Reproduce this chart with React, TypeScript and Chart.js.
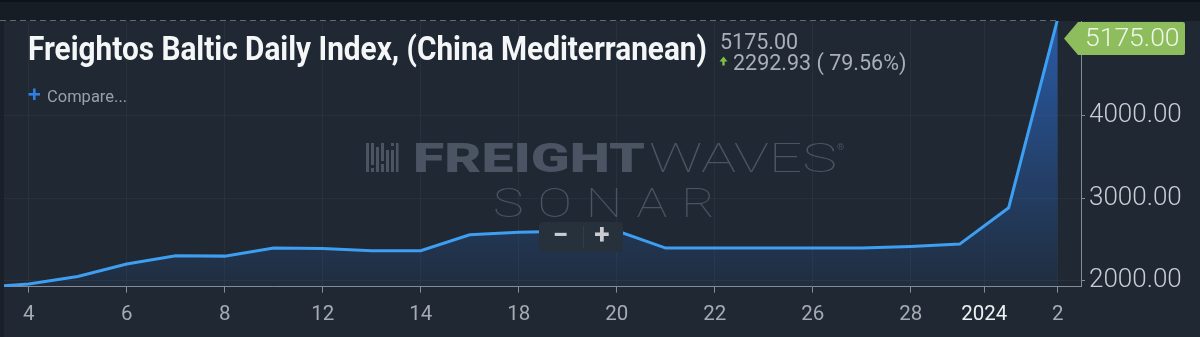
import { useEffect, useRef } from 'react';
import { Chart, registerables } from 'chart.js';

Chart.register(...registerables);

// FBX China – Mediterranean, one reading per trading day
const dates = [
  '2023-12-01', '2023-12-04', '2023-12-05', '2023-12-06', '2023-12-07', '2023-12-08',
  '2023-12-11', '2023-12-12', '2023-12-13', '2023-12-14', '2023-12-15', '2023-12-18',
  '2023-12-19', '2023-12-20', '2023-12-21', '2023-12-22', '2023-12-25', '2023-12-26',
  '2023-12-27', '2023-12-28', '2023-12-29', '2024-01-01', '2024-01-02',
];
const fbxValues = [
  1915, 1956, 2048, 2199, 2299, 2295,
  2393, 2388, 2360, 2360, 2554, 2586,
  2598, 2602, 2393, 2393, 2393, 2393,
  2393, 2412, 2441, 2882.07, 5175,
];

// bottom axis: a four-digit entry marks the start of that year
const tickDates = [
  '2023-12-04', '2023-12-06', '2023-12-08', '2023-12-12', '2023-12-14', '2023-12-18',
  '2023-12-20', '2023-12-22', '2023-12-26', '2023-12-28', '2024', '2024-01-02',
];
const tickLabels = ['4', '6', '8', '12', '14', '18', '20', '22', '26', '28', '2024', '2'];
const yTickValues = [2000, 3000, 4000];

const seriesTitle = 'Freightos Baltic Daily Index, (China Mediterranean)';
const lastValue = fbxValues[fbxValues.length - 1];
const prevValue = fbxValues[fbxValues.length - 2];
const change = lastValue - prevValue;
const changePct = (change / prevValue) * 100;

const tickPosition = (d: string) =>
  d.length === 4 ? dates.findIndex((x) => x.startsWith(d)) - 0.5 : dates.indexOf(d);
const yearTickIndex = tickDates.findIndex((d) => d.length === 4);

const BG = '#1f2833';
const AXIS = '#858c95';
const GRID = 'rgba(255,255,255,0.04)';
const MARK = '#4a5462';

function fitText(ctx: CanvasRenderingContext2D, text: string, x: number, y: number, width: number, trailing = 0) {
  const w = ctx.measureText(text).width - trailing;
  ctx.save();
  ctx.translate(x, y);
  ctx.scale(width / w, 1);
  ctx.fillText(text, 0, 0);
  ctx.restore();
}

const backdropPlugin = {
  id: 'backdrop',
  beforeDraw(chart: any) {
    const { ctx, width, height, chartArea } = chart;
    ctx.save();
    ctx.fillStyle = BG;
    ctx.fillRect(0, 0, width, height);
    ctx.fillStyle = '#171d25';
    ctx.fillRect(0, 0, width, chartArea.top);
    ctx.fillStyle = '#0e1217';
    ctx.fillRect(0, 0, width, 2);
    ctx.fillStyle = '#192029';
    ctx.fillRect(0, chartArea.top, chartArea.left, height - chartArea.top);
    ctx.restore();
  },
};

const watermarkPlugin = {
  id: 'watermark',
  beforeDatasetsDraw(chart: any) {
    const { ctx } = chart;
    ctx.save();
    ctx.fillStyle = MARK;
    // bar-code style emblem
    const bars = [
      [366, 143, 3, 29], [371, 143, 3, 22], [371, 168, 3, 4], [376, 147, 3, 25],
      [381, 143, 3, 18], [381, 164, 3, 8], [386, 150, 3, 22], [391, 143, 3, 3],
      [391, 150, 3, 22], [396, 143, 2.5, 29],
    ];
    bars.forEach(([x, y, w, h]) => ctx.fillRect(x, y, w, h));
    ctx.textBaseline = 'alphabetic';
    ctx.font = '900 41px Roboto';
    fitText(ctx, 'FREIGHT', 413, 172, 232);
    ctx.font = '100 41px Roboto';
    fitText(ctx, 'WAVES', 649, 172, 188);
    ctx.font = '9px Roboto';
    ctx.fillText('®', 837, 150);
    ctx.font = '100 41px Roboto';
    (ctx as any).letterSpacing = '11px';
    fitText(ctx, 'SONAR', 493, 217, 222, 11);
    (ctx as any).letterSpacing = '0px';
    ctx.restore();
  },
};

const overlayPlugin = {
  id: 'overlay',
  afterDraw(chart: any) {
    const { ctx, chartArea, scales } = chart;
    const xs = scales.x;
    const ys = scales.y;
    ctx.save();

    // last-value price line
    const lastX = xs.getPixelForValue(fbxValues.length - 1);
    const lineY = Math.round(Math.max(ys.getPixelForValue(lastValue), chartArea.top)) - 0.5;
    ctx.strokeStyle = '#5f6874';
    ctx.lineWidth = 1;
    ctx.setLineDash([6, 4]);
    ctx.beginPath();
    ctx.moveTo(0, lineY);
    ctx.lineTo(lastX, lineY);
    ctx.stroke();
    ctx.setLineDash([]);

    // price tag on the value axis
    const tagL = 1064, tagB = 1078, tagR = 1185, tagT = 22, tagBot = 55;
    const tagMid = (tagT + tagBot) / 2;
    ctx.fillStyle = '#8dbd5c';
    ctx.beginPath();
    ctx.moveTo(tagL, tagMid);
    ctx.lineTo(tagB, tagT);
    ctx.lineTo(tagR - 2, tagT);
    ctx.quadraticCurveTo(tagR, tagT, tagR, tagT + 2);
    ctx.lineTo(tagR, tagBot - 2);
    ctx.quadraticCurveTo(tagR, tagBot, tagR - 2, tagBot);
    ctx.lineTo(tagB, tagBot);
    ctx.closePath();
    ctx.fill();
    ctx.fillStyle = '#eff7e8';
    ctx.font = '300 26.5px Roboto';
    ctx.textBaseline = 'middle';
    ctx.textAlign = 'left';
    ctx.fillText(lastValue.toFixed(2), 1085, tagMid + 1);

    // title
    ctx.textBaseline = 'alphabetic';
    ctx.fillStyle = '#f5f6f7';
    ctx.font = '700 33px Roboto';
    fitText(ctx, seriesTitle, 28, 59.5, 679);

    // last value and change
    ctx.fillStyle = '#a8afb7';
    ctx.font = '21.5px Roboto';
    ctx.fillText(lastValue.toFixed(2), 720, 48.5);
    ctx.fillText(`${change.toFixed(2)} ( ${changePct.toFixed(2)}%)`, 733, 70);
    ctx.fillStyle = '#7dc142';
    ctx.beginPath();
    ctx.moveTo(719.5, 61.5);
    ctx.lineTo(723.5, 56.5);
    ctx.lineTo(727.5, 61.5);
    ctx.closePath();
    ctx.fill();
    ctx.fillRect(722.3, 61, 2.4, 4.5);

    // compare control
    ctx.fillStyle = '#2f7fe4';
    ctx.fillRect(28.5, 93, 11.5, 2.6);
    ctx.fillRect(33, 88.5, 2.6, 11.5);
    ctx.fillStyle = '#98a1ab';
    ctx.font = '16.5px Roboto';
    ctx.fillText('Compare...', 47, 102);

    // zoom buttons
    ctx.fillStyle = '#27313c';
    ctx.beginPath();
    (ctx as any).roundRect(539, 222, 84, 30, 4);
    ctx.fill();
    ctx.strokeStyle = '#333d49';
    ctx.beginPath();
    ctx.moveTo(583.5, 226);
    ctx.lineTo(583.5, 248);
    ctx.stroke();
    ctx.fillStyle = '#c9cdd2';
    ctx.font = '700 28px Roboto';
    ctx.textAlign = 'center';
    ctx.textBaseline = 'middle';
    ctx.fillText('\u2212', 560.5, 237);
    ctx.fillText('+', 602, 237);

    ctx.restore();
  },
};

export default function App() {
  const canvasRef = useRef<HTMLCanvasElement | null>(null);

  useEffect(() => {
    document.body.style.margin = '0';
    const canvas = canvasRef.current;
    if (!canvas) return;

    const chart = new Chart(canvas, {
      type: 'line',
      data: {
        datasets: [
          {
            label: seriesTitle,
            data: fbxValues.map((v, i) => ({ x: i, y: v })),
            borderColor: '#3d9ef2',
            borderWidth: 3,
            pointRadius: 0,
            tension: 0,
            clip: 0,
            fill: 'start',
            backgroundColor: (c: any) => {
              const area = c.chart.chartArea;
              if (!area) return 'rgba(45,110,210,0.3)';
              const g = c.chart.ctx.createLinearGradient(0, area.top, 0, area.bottom);
              g.addColorStop(0, 'rgba(45,110,210,0.72)');
              g.addColorStop(1, 'rgba(45,110,210,0.07)');
              return g;
            },
          },
        ],
      },
      options: {
        responsive: false,
        devicePixelRatio: 1,
        animation: false,
        events: [],
        layout: { padding: { left: 4, top: 21, right: 0, bottom: 0 } },
        plugins: { legend: { display: false }, tooltip: { enabled: false }, title: { display: false } },
        scales: {
          x: {
            type: 'linear',
            min: 0.496,
            max: 22.476,
            afterBuildTicks: (s: any) => {
              s.ticks = tickDates.map((d) => ({ value: tickPosition(d) }));
            },
            afterFit: (s: any) => {
              s.height = 50.3;
            },
            ticks: {
              autoSkip: false,
              maxRotation: 0,
              padding: 10,
              callback: (_v: any, i: number) => tickLabels[i],
              font: { family: 'Roboto', size: 20.5, weight: '400' },
              color: (c: any) => (c.index === yearTickIndex ? '#eef0f2' : '#a4abb3'),
            },
            grid: { color: GRID, tickColor: AXIS, tickLength: 6 },
            border: { color: AXIS, width: 1 },
          },
          y: {
            position: 'right',
            min: 1924,
            max: 5148,
            afterBuildTicks: (s: any) => {
              s.ticks = yTickValues.map((v) => ({ value: v }));
            },
            afterFit: (s: any) => {
              s.width = 119;
            },
            ticks: {
              padding: 4,
              callback: (v: any) => Number(v).toFixed(2),
              font: { family: 'Roboto', size: 26, weight: '300' },
              color: '#c9ced4',
            },
            grid: { color: GRID, tickColor: AXIS, tickLength: 4 },
            border: { color: AXIS, width: 1 },
          },
        },
      },
      plugins: [backdropPlugin, watermarkPlugin, overlayPlugin],
    });

    if ((document as any).fonts) {
      Promise.all([
        document.fonts.load('700 33px Roboto'),
        document.fonts.load('300 26px Roboto'),
        document.fonts.load('100 41px Roboto'),
        document.fonts.load('900 41px Roboto'),
      ])
        .then(() => chart.update())
        .catch(() => {});
    }

    return () => chart.destroy();
  }, []);

  return (
    <div style={{ position: 'fixed', left: 0, top: 0, width: 1200, height: 337, background: BG }}>
      <canvas ref={canvasRef} width={1200} height={337} style={{ display: 'block' }} />
    </div>
  );
}
